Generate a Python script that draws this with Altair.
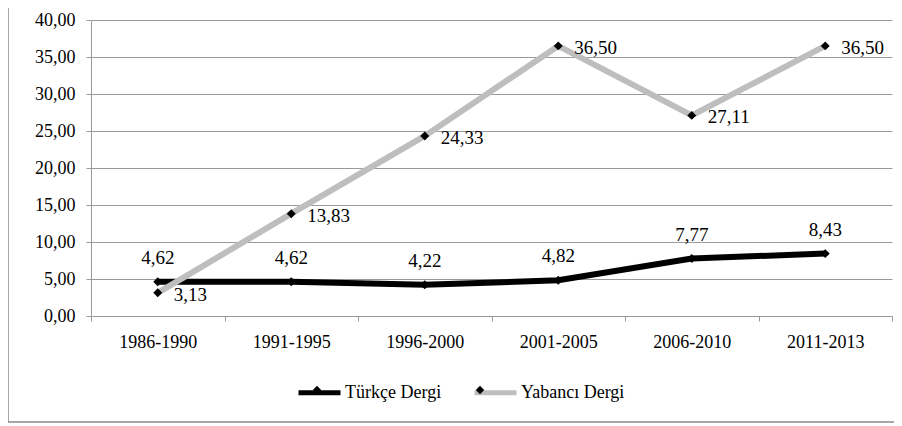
import altair as alt
import pandas as pd

categories = ["1986-1990", "1991-1995", "1996-2000", "2001-2005", "2006-2010", "2011-2013"]
series = ["Türkçe Dergi", "Yabancı Dergi"]
series_keys = ["T", "Y"]
turkce = [4.62, 4.62, 4.22, 4.82, 7.77, 8.43]
yabanci = [3.13, 13.83, 24.33, 36.50, 27.11, 36.50]
y_ticks = [0, 5, 10, 15, 20, 25, 30, 35, 40]

rows = []
for s, k, vals in zip(series, series_keys, [turkce, yabanci]):
    for c, v in zip(categories, vals):
        rows.append({"periyot": c, "seri": s, "seri_p": k, "deger": v,
                     "etiket": f"{v:.2f}".replace(".", ",")})
df = pd.DataFrame(rows)

FONT = "Liberation Serif"
GRID = "#9a9a9a"
W, H = 801, 296
LEG_X, LEG_Y = 205, 349

x_enc = alt.X("periyot:N", sort=categories,
              scale=alt.Scale(paddingInner=0, paddingOuter=0),
              axis=alt.Axis(title=None, labelAngle=0, tickBand="extent", grid=False,
                            domainColor=GRID, tickColor=GRID, tickSize=5,
                            labelPadding=12, labelFont=FONT, labelFontSize=18,
                            labelColor="#000000"))
y_enc = alt.Y("deger:Q",
              scale=alt.Scale(domain=[0, 40], nice=False),
              axis=alt.Axis(title=None, values=y_ticks,
                            labelExpr="replace(format(datum.value, '.2f'), '.', ',')",
                            tickSize=5, labelPadding=11, grid=True,
                            gridColor=GRID, domainColor=GRID, tickColor=GRID,
                            labelFont=FONT, labelFontSize=18, labelColor="#000000"))

base = alt.Chart(df)

lines = base.mark_line(strokeWidth=6).encode(
    x=x_enc, y=y_enc,
    color=alt.Color("seri:N", sort=series,
                    scale=alt.Scale(domain=series, range=["#000000", "#BEBEBE"]),
                    legend=alt.Legend(title=None, orient="none", legendX=LEG_X, legendY=LEG_Y,
                                      direction="horizontal", symbolType="M-1,0H1",
                                      symbolSize=1764, symbolStrokeWidth=5,
                                      labelOpacity=1)),
    order=alt.Order("seri:N"),
)

points = base.mark_point(shape="diamond", filled=True, size=80, opacity=1).encode(
    x=x_enc, y=y_enc,
    fill=alt.Fill("seri_p:N", sort=series_keys,
                  scale=alt.Scale(domain=series_keys, range=["#000000", "#000000"]),
                  legend=alt.Legend(title=None, orient="none", legendX=LEG_X, legendY=LEG_Y,
                                    direction="horizontal",
                                    symbolType="M0,-0.2L0.2,0L0,0.2L-0.2,0Z",
                                    symbolSize=1764, symbolStrokeWidth=0,
                                    labelExpr=f"datum.label == 'T' ? '{series[0]}' : '{series[1]}'",
                                    labelOpacity=0)),
)

txt_tr = base.transform_filter(alt.datum.seri == series[0]).mark_text(
    dy=-24, font=FONT, fontSize=19, color="#000000").encode(
    x=x_enc, y=y_enc, text="etiket:N")

txt_ya = base.transform_filter(alt.datum.seri == series[1]).mark_text(
    align="left", dx=16, dy=2, font=FONT, fontSize=19, color="#000000").encode(
    x=x_enc, y=y_enc, text="etiket:N")

border = alt.Chart(alt.Data(values=[{}])).mark_rect(
    fillOpacity=0, stroke="#8a8a8a", strokeWidth=1.5, clip=False).encode(
    x=alt.value(-83), x2=alt.value(W + 40), y=alt.value(-40), y2=alt.value(H + 106))

chart = alt.layer(lines, points, txt_tr, txt_ya, border).properties(
    width=W, height=H,
    padding={"left": 83, "top": 12, "right": 2, "bottom": 107},
    autosize="none",
).configure_view(stroke=None).configure_legend(
    labelFont=FONT, labelFontSize=18, labelColor="#000000",
    labelOffset=2, columnPadding=22, padding=0, labelLimit=300,
)

chart.save("out.html", embed_options={"renderer": "svg", "actions": False})
